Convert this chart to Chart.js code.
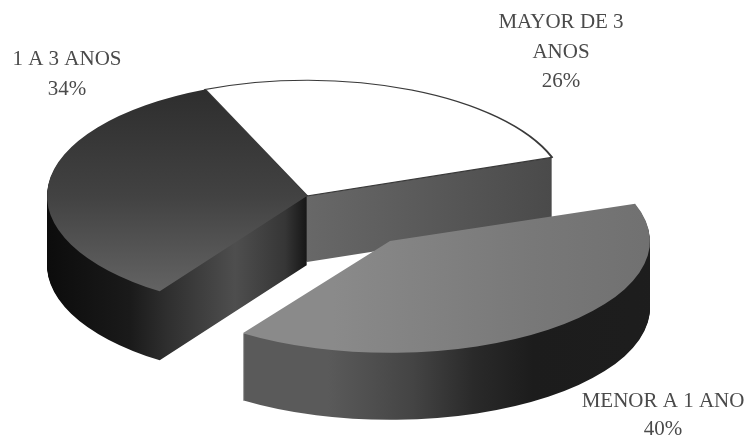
<!DOCTYPE html>
<html>
<head>
<meta charset="utf-8">
<script src="https://cdn.jsdelivr.net/npm/chart.js@4"></script>
<style>
  html, body { margin: 0; padding: 0; background: #fff; overflow: hidden; }
  canvas { display: block; filter: blur(0.6px); }
</style>
</head>
<body>
<canvas id="pie" width="747" height="436"></canvas>
<script>
const categories = ['MENOR A 1 ANO', '1 A 3 ANOS', 'MAYOR DE 3 ANOS'];
const values = [40, 34, 26];
const labelLines = [['MENOR A 1 ANO'], ['1 A 3 ANOS'], ['MAYOR DE 3', 'ANOS']];

// look of the fake 3D pie
const squash = [0.43, 0.445, 0.445];
const depth = [67, 69, 66];
const explode = [[83, 45], [0, 0], [0, 0]];
const drawOrder = [2, 1, 0];
const labelPos = [[663, 407], [67, 65], [561, 28]];
const lineStep = [28, 30, 29.5];

function xGradient(ctx, stops) {
    const g = ctx.createLinearGradient(0, 0, 747, 0);
    stops.forEach(s => g.addColorStop(s[0] / 747, s[1]));
    return g;
}

function drawWith(arc, ctx, opts) {
    const old = arc.options;
    arc.options = Object.assign({}, old, opts);
    arc.draw(ctx);
    arc.options = old;
}

const pie3d = {
    id: 'pie3d',
    beforeDatasetDraw(chart, args) {
        const ctx = chart.ctx;
        const arcs = args.meta.data;
        const sides = [
            xGradient(ctx, [[245, '#5a5a5a'], [330, '#444444'], [390, '#2a2a2a'], [450, '#1c1c1c'], [650, '#1e1e1e']]),
            xGradient(ctx, [[47, '#0c0c0c'], [130, '#1a1a1a'], [166, '#2e2e2e'], [235, '#4e4e4e'], [285, '#363636'], [307, '#161616']]),
            xGradient(ctx, [[307, '#686868'], [553, '#4a4a4a']])
        ];
        const leftTop = ctx.createLinearGradient(0, arcs[1].y - 260, 0, arcs[1].y + 260);
        leftTop.addColorStop(0, '#2c2c2c');
        leftTop.addColorStop(0.5, '#424242');
        leftTop.addColorStop(1, '#6a6a6a');
        const tops = [
            xGradient(ctx, [[250, '#8a8a8a'], [450, '#787878'], [640, '#6c6c6c']]),
            leftTop,
            '#ffffff'
        ];

        drawOrder.forEach(i => {
            const arc = arcs[i];
            ctx.save();
            ctx.translate(explode[i][0], explode[i][1]);
            // side wall: the same slice stacked downwards
            for (let d = depth[i]; d > 0; d--) {
                ctx.save();
                ctx.translate(0, d);
                ctx.translate(arc.x, arc.y);
                ctx.scale(1, squash[i]);
                ctx.translate(-arc.x, -arc.y);
                drawWith(arc, ctx, { backgroundColor: sides[i], borderWidth: 0 });
                ctx.restore();
            }
            ctx.translate(arc.x, arc.y);
            ctx.scale(1, squash[i]);
            ctx.translate(-arc.x, -arc.y);
            drawWith(arc, ctx, {
                backgroundColor: tops[i],
                borderWidth: i === 2 ? 2.5 : 0,
                borderColor: '#3a3a3a'
            });
            ctx.restore();
        });
        return false;
    },
    afterDraw(chart) {
        const ctx = chart.ctx;
        ctx.save();
        ctx.font = '21px "Liberation Serif", serif';
        ctx.fillStyle = '#4a4a4a';
        ctx.textAlign = 'center';
        ctx.textBaseline = 'alphabetic';
        categories.forEach((c, i) => {
            const lines = labelLines[i].concat(values[i] + '%');
            lines.forEach((t, n) => ctx.fillText(t, labelPos[i][0], labelPos[i][1] + n * lineStep[i]));
        });
        ctx.restore();
    }
};

new Chart(document.getElementById('pie').getContext('2d'), {
    type: 'pie',
    data: {
        labels: categories,
        datasets: [{
            data: values,
            backgroundColor: ['#7c7c7c', '#414141', '#ffffff'],
            borderWidth: 0,
            radius: 260
        }]
    },
    options: {
        responsive: false,
        animation: false,
        events: [],
        rotation: 70.5,
        layout: { padding: { right: 133, bottom: 44 } },
        plugins: { legend: { display: false }, tooltip: { enabled: false } }
    },
    plugins: [pie3d]
});
</script>
</body>
</html>
